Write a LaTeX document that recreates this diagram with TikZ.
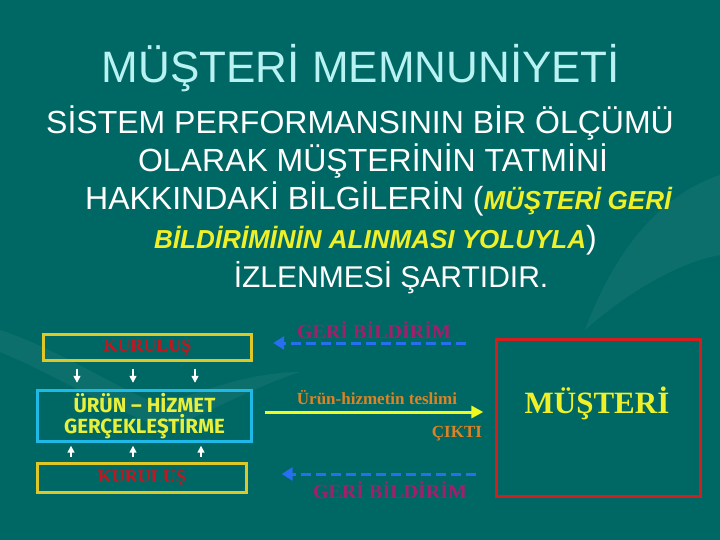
\documentclass[tikz,border=0pt]{standalone}
\usepackage{fontspec}
\setmainfont{Liberation Serif}
\setsansfont{Liberation Sans}
\newfontfamily\comicf{Fira Sans}
\usetikzlibrary{arrows.meta}
\definecolor{bg}{RGB}{0,104,100}
\definecolor{titlec}{RGB}{185,242,242}
\definecolor{ytext}{RGB}{240,240,40}
\definecolor{boxy}{RGB}{222,200,40}
\definecolor{kred}{RGB}{200,20,30}
\definecolor{cyanb}{RGB}{30,185,230}
\definecolor{midy}{RGB}{232,240,60}
\definecolor{purp}{RGB}{165,30,110}
\definecolor{fblue}{RGB}{40,110,240}
\definecolor{arry}{RGB}{240,250,30}
\definecolor{orng}{RGB}{222,130,35}
\definecolor{redb}{RGB}{212,30,30}
\tikzset{
  body/.style={text=white,font=\sffamily\fontsize{32}{38}\selectfont,inner sep=0pt},
  ybox/.style={draw=boxy,line width=3.4pt,inner sep=0pt},
  kurtext/.style={text=kred,font=\bfseries\fontsize{18}{20}\selectfont},
  wa/.style={white,line width=1.5pt,-{Triangle[length=7pt,width=7pt]}},
  fb/.style={fblue,line width=3pt,dash pattern=on 10pt off 5pt,-{Triangle[length=11pt,width=13pt]}},
  geri/.style={text=purp,font=\bfseries\fontsize{20}{22}\selectfont,inner sep=0pt},
  otext/.style={text=orng,font=\bfseries\fontsize{17}{20}\selectfont,inner sep=0pt},
}
\begin{document}
\begin{tikzpicture}[x=1pt,y=-1pt]
\fill[bg] (0,0) rectangle (720,540);
\useasboundingbox (0,0) rectangle (720,540);
% faint background swooshes
\fill[white,opacity=0.05] (0,330) .. controls (60,350) and (120,390) .. (160,405) .. controls (200,392) and (250,372) .. (300,372) .. controls (250,388) and (200,418) .. (165,428) .. controls (110,410) and (50,372) .. (0,352) -- cycle;
\fill[white,opacity=0.05] (720,175) .. controls (660,195) and (615,250) .. (585,330) .. controls (630,290) and (680,262) .. (720,255) -- cycle;
% title
\node[text=titlec,font=\sffamily\fontsize{44}{50}\selectfont,anchor=base,inner sep=0pt] (title) at (361,83) {MÜŞTERİ MEMNUNİYETİ};
% body
\node[body,anchor=base] (l1) at (360,134) {SİSTEM PERFORMANSININ BİR ÖLÇÜMÜ};
\node[body,anchor=base] (l2) at (373,172) {OLARAK MÜŞTERİNİN TATMİNİ};
\node[body,anchor=base west] (l3) at (85,210) {HAKKINDAKİ BİLGİLERİN (\textcolor{ytext}{\bfseries\itshape\fontsize{26}{30}\selectfont MÜŞTERİ GERİ}};
\node[body,anchor=base west] (l4) at (154,248) {\textcolor{ytext}{\bfseries\itshape\fontsize{26}{30}\selectfont BİLDİRİMİNİN ALINMASI YOLUYLA})};
\node[body,anchor=base,font=\sffamily\fontsize{30}{36}\selectfont] (l5) at (391,287) {İZLENMESİ ŞARTIDIR.};
% left boxes
\node[ybox,minimum width=208pt,minimum height=26pt] (kur1) at (147.5,347.5) {};
\node[kurtext] at (kur1.center) {KURULUŞ};
\node[draw=cyanb,line width=3.4pt,minimum width=214pt,minimum height=51pt,inner sep=0pt,
      text=midy,align=center,font=\comicf\bfseries\fontsize{20.5}{21.5}\selectfont] (mid) at (144.5,416) {ÜRÜN – HİZMET\\GERÇEKLEŞTİRME};
\node[ybox,minimum width=209pt,minimum height=29pt] (kur2) at (142,478) {};
\node[kurtext] at (kur2.center) {KURULUŞ};
% small white arrows
\foreach \x/\n in {77/a,133/b,195/c}{
  \coordinate (d\n) at (\x,0);
  \draw[wa,shorten <=6.5pt,shorten >=6pt] (kur1.south -| d\n) -- (mid.north -| d\n);
}
\foreach \x/\n in {71/a,133/b,201/c}{
  \coordinate (u\n) at (\x,0);
  \draw[wa,shorten <=5pt,shorten >=2.5pt] (kur2.north -| u\n) -- (mid.south -| u\n);
}
% customer box
\node[draw=redb,line width=3.4pt,minimum width=204pt,minimum height=157pt,inner sep=0pt] (red) at (598.5,418) {};
\node[text=ytext,font=\bfseries\fontsize{31}{34}\selectfont,anchor=base,inner sep=0pt] (must) at (597,413) {MÜŞTERİ};
% connectors
\coordinate (fbtop) at (0,343);
\coordinate (fbbot) at (0,474);
\coordinate (outl) at (0,412);
\draw[fb,shorten <=28.5pt,shorten >=20pt] (red.west |- fbtop) -- (kur1.east |- fbtop);
\draw[fb,shorten <=18.5pt,shorten >=33.5pt] (red.west |- fbbot) -- (kur2.east |- fbbot);
\draw[arry,line width=3pt,-{Triangle[length=12pt,width=12pt]},shorten <=11.5pt,shorten >=11.5pt] (mid.east |- outl) -- (red.west |- outl);
% labels
\node[geri,anchor=base] (g1) at (374,338) {GERİ BİLDİRİM};
\node[geri,anchor=base] (g2) at (390,498) {GERİ BİLDİRİM};
\node[otext,anchor=base] (teslim) at (377,404) {Ürün-hizmetin teslimi};
\node[otext,anchor=base] (cikti) at (457,437) {ÇIKTI};
\end{tikzpicture}
\end{document}
